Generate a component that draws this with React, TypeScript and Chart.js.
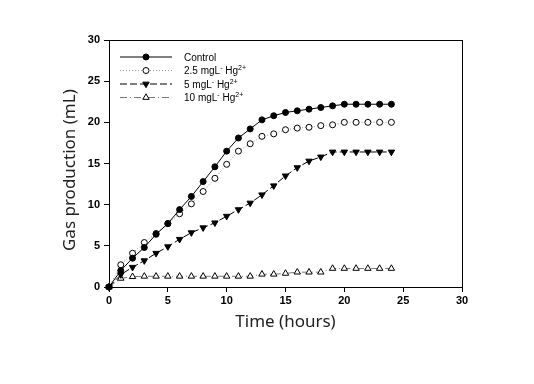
import React, { useEffect, useRef } from "react";
import { Chart, registerables } from "chart.js";

Chart.register(...registerables);

const hours = [0, 1, 2, 3, 4, 5, 6, 7, 8, 9, 10, 11, 12, 13, 14, 15, 16, 17, 18, 19, 20, 21, 22, 23, 24];
const control = [0, 2.0, 3.5, 4.8, 6.4, 7.7, 9.4, 11.0, 12.8, 14.6, 16.5, 18.1, 19.2, 20.3, 20.8, 21.2, 21.4, 21.6, 21.8, 22.0, 22.2, 22.2, 22.2, 22.2, 22.2];
const hg25 = [0, 2.7, 4.1, 5.4, 6.5, 7.7, 8.9, 10.1, 11.6, 13.2, 14.9, 16.5, 17.4, 18.3, 18.6, 19.1, 19.3, 19.4, 19.6, 19.7, 20.0, 20.0, 20.0, 20.0, 20.0];
const hg5 = [0, 1.5, 2.4, 3.2, 4.1, 4.9, 5.8, 6.6, 7.2, 7.8, 8.6, 9.4, 10.2, 11.2, 12.3, 13.5, 14.5, 15.3, 15.8, 16.4, 16.4, 16.4, 16.4, 16.4, 16.4];
const hg10 = [0, 1.05, 1.25, 1.3, 1.3, 1.3, 1.3, 1.3, 1.3, 1.3, 1.3, 1.3, 1.3, 1.55, 1.55, 1.65, 1.8, 1.8, 1.8, 2.25, 2.25, 2.25, 2.25, 2.25, 2.25];

const legendLabels = [
  ["Control"],
  ["2.5 mgL", "-", " Hg", "2+"],
  ["5 mgL", "-", " Hg", "2+"],
  ["10 mgL", "-", " Hg", "2+"],
];

const xTitle = "Time (hours)";
const yTitle = "Gas production (mL)   ";

function toPoints(ys: number[]) {
  return hours.map((h, i) => ({ x: h, y: ys[i] }));
}

const frameAndLegend = {
  id: "frameAndLegend",
  afterDatasetsDraw(chart: any) {
    const { ctx, chartArea } = chart;
    ctx.save();
    ctx.strokeStyle = "#000";
    ctx.lineWidth = 1;
    ctx.setLineDash([]);
    ctx.strokeRect(
      Math.round(chartArea.left) + 0.5,
      Math.round(chartArea.top) + 0.5,
      Math.round(chartArea.right - chartArea.left),
      Math.round(chartArea.bottom - chartArea.top)
    );
    const rows = [57, 70.5, 84, 97.5];
    const lx0 = chartArea.left + 11;
    const lx1 = chartArea.left + 63;
    const mx = (lx0 + lx1) / 2;
    const tx = chartArea.left + 75;
    chart.data.datasets.forEach((ds: any, i: number) => {
      const y = rows[i];
      ctx.save();
      ctx.strokeStyle = ds.borderColor;
      ctx.lineWidth = ds.borderWidth;
      ctx.setLineDash(ds.borderDash || []);
      ctx.beginPath();
      ctx.moveTo(lx0, y);
      ctx.lineTo(lx1, y);
      ctx.stroke();
      ctx.restore();
      // marker
      ctx.save();
      ctx.setLineDash([]);
      ctx.fillStyle = ds.pointBackgroundColor;
      ctx.strokeStyle = ds.pointBorderColor;
      ctx.lineWidth = 1;
      const r = ds.pointRadius;
      ctx.beginPath();
      if (ds.pointStyle === "circle") {
        ctx.arc(mx, y, r, 0, Math.PI * 2);
      } else {
        const rot = ((ds.pointRotation || 0) * Math.PI) / 180;
        for (let k = 0; k < 3; k++) {
          const a = rot + (k * 2 * Math.PI) / 3;
          const px = mx + Math.sin(a) * r;
          const py = y - Math.cos(a) * r;
          if (k === 0) ctx.moveTo(px, py);
          else ctx.lineTo(px, py);
        }
        ctx.closePath();
      }
      ctx.fill();
      ctx.stroke();
      ctx.restore();
      // text
      ctx.save();
      ctx.fillStyle = "#000";
      ctx.textBaseline = "alphabetic";
      ctx.textAlign = "left";
      let x = tx;
      const base = y + 3.5;
      legendLabels[i].forEach((part, j) => {
        const sup = j % 2 === 1;
        ctx.font = sup ? "7px 'Liberation Sans', Arial, sans-serif" : "10px 'Liberation Sans', Arial, sans-serif";
        ctx.fillText(part, x, sup ? base - 4 : base);
        x += ctx.measureText(part).width;
      });
      ctx.restore();
    });
    ctx.restore();
  },
};

export default function App() {
  const ref = useRef<HTMLCanvasElement | null>(null);
  useEffect(() => {
    if (!ref.current) return;
    const tickFont = { family: "'Liberation Sans', Arial, sans-serif", size: 11, weight: "bold" as const };
    const titleFont = { family: "'Noto Sans', 'Open Sans', sans-serif", size: 17, weight: "normal" as const };
    const chart = new Chart(ref.current, {
      type: "line",
      data: {
        datasets: [
          {
            label: "Control",
            data: toPoints(control),
            borderColor: "#000",
            borderWidth: 1,
            borderDash: [],
            pointStyle: "circle",
            pointRadius: 3,
            pointBackgroundColor: "#000",
            pointBorderColor: "#000",
            pointBorderWidth: 1,
            clip: false,
          },
          {
            label: "2.5 mgL- Hg2+",
            data: toPoints(hg25),
            borderColor: "#999",
            borderWidth: 1,
            borderDash: [1, 2],
            pointStyle: "circle",
            pointRadius: 3,
            pointBackgroundColor: "#fff",
            pointBorderColor: "#000",
            pointBorderWidth: 1,
            clip: false,
          },
          {
            label: "5 mgL- Hg2+",
            data: toPoints(hg5),
            borderColor: "#000",
            borderWidth: 1,
            borderDash: [7, 3],
            pointStyle: "triangle",
            pointRotation: 180,
            pointRadius: 3.7,
            pointBackgroundColor: "#000",
            pointBorderColor: "#000",
            pointBorderWidth: 1,
            clip: false,
          },
          {
            label: "10 mgL- Hg2+",
            data: toPoints(hg10),
            borderColor: "#777",
            borderWidth: 1,
            borderDash: [7, 3, 1, 3],
            pointStyle: "triangle",
            pointRadius: 3.7,
            pointBackgroundColor: "#fff",
            pointBorderColor: "#000",
            pointBorderWidth: 1,
            clip: false,
          },
        ] as any,
      },
      options: {
        animation: false,
        responsive: true,
        maintainAspectRatio: false,
        layout: { padding: { top: 40, right: 72, left: 0, bottom: 0 } },
        plugins: { legend: { display: false }, tooltip: { enabled: false } },
        elements: { line: { tension: 0 } },
        scales: {
          x: {
            type: "linear",
            min: 0,
            max: 30,
            ticks: { stepSize: 5, color: "#000", font: tickFont, padding: 2, maxRotation: 0 },
            grid: { drawOnChartArea: false, drawTicks: true, tickLength: 5, color: "#000" },
            border: { color: "#000", width: 1 },
            title: { display: true, text: xTitle, color: "#222", font: titleFont, padding: { top: 0, bottom: 52 } },
            afterFit: (s: any) => {
              s.height = 97;
            },
          },
          y: {
            type: "linear",
            min: 0,
            max: 30,
            ticks: { stepSize: 5, color: "#000", font: tickFont, padding: 4 },
            grid: { drawOnChartArea: false, drawTicks: true, tickLength: 5, color: "#000" },
            border: { color: "#000", width: 1 },
            title: { display: true, text: yTitle, color: "#222", font: titleFont, padding: { top: 60, bottom: 0 } },
            afterFit: (s: any) => {
              s.width = 109;
            },
          },
        },
      },
      plugins: [frameAndLegend],
    });
    return () => chart.destroy();
  }, []);
  return (
    <div style={{ position: "absolute", left: 0, top: 0, width: 534, height: 384, background: "#fff" }}>
      <canvas ref={ref} />
    </div>
  );
}
